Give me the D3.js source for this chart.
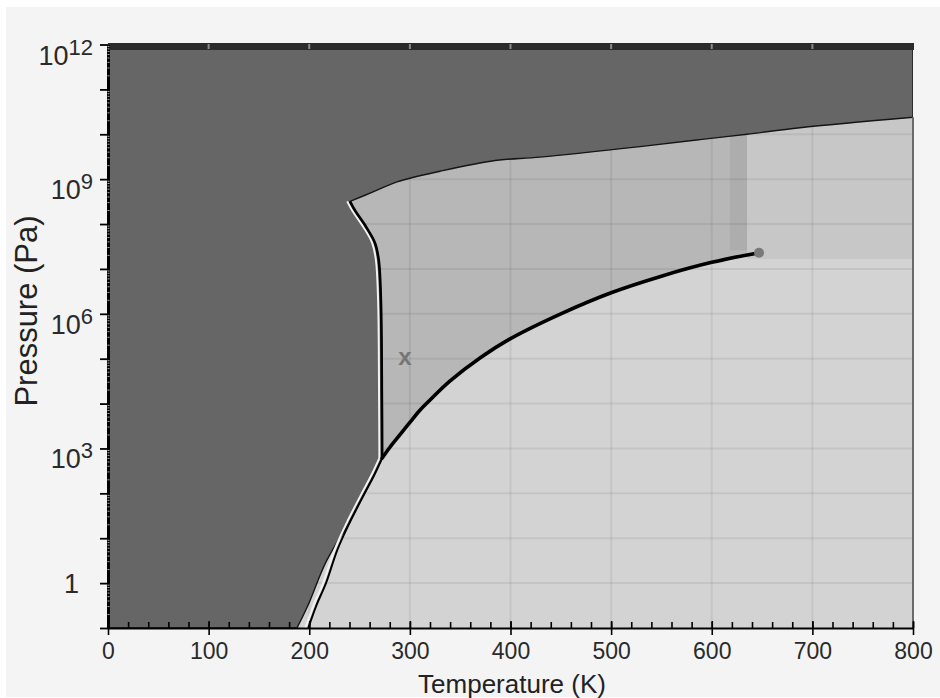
<!DOCTYPE html>
<html>
<head>
<meta charset="utf-8">
<script src="https://cdn.jsdelivr.net/npm/d3@7"></script>
<style>
  body { margin: 0; background: #fff; }
  svg text { font-family: "Liberation Sans", Arial, sans-serif; fill: #222; }
</style>
</head>
<body>
<div id="chart"></div>
<script>
// Temperatures in K, pressures in Pa
const xTicks = [0, 100, 200, 300, 400, 500, 600, 700, 800];
const yLabelExponents = [0, 3, 6, 9, 12];

// upper edge of the dark (solid) region, left tip to right edge
const solidTop = [
  [240.5, 3.2e8], [263.4, 5.2e8], [287.2, 8.7e8], [330, 1.5e9], [384.6, 2.6e9],
  [429.3, 3.1e9], [528.7, 5.3e9], [588.3, 7.6e9], [635, 1.0e10], [687.7, 1.4e10], [800, 2.4e10],
];
// melting line, triple point up to the tip
const meltingCurve = [
  [272.5, 611], [272.2, 1.2e4], [271.2, 2.0e6], [269, 1.6e7],
  [265.3, 3.8e7], [256.4, 8.7e7], [245.5, 2.0e8], [240.5, 3.2e8],
];
// sublimation line, bottom edge up to the triple point
const sublimationCurve = [
  [199, 0.1], [207, 0.316], [216.6, 1], [228, 5.6], [240, 22], [255, 100], [264, 240], [272.5, 611],
];
// lower edge of the dark region, left of the sublimation line
const solidEdgeLow = [[187.8, 0.1], [198.2, 0.3], [217.4, 3.2], [240, 22]];
// boiling line, triple point to critical point
const vaporCurve = [
  [272.5, 611], [280, 1050], [290, 2000], [300, 3800], [310, 7100], [320, 1.2e4],
  [340, 3.2e4], [370, 1.05e5], [400, 2.8e5], [450, 1.0e6], [500, 2.95e6],
  [550, 6.9e6], [600, 1.4e7], [647, 2.3e7],
];
const criticalPoint = [647, 2.3e7];
const roomPoint = [295, 101325];
// shaded patches in the fluid part
const bandTemps = [618, 635];
const bandFloor = 2.6e7;
const superTemps = [635, 800];
const superFloor = 1.66e7;
const liquidCorner = [635, 2.05e7];

const width = 940;
const height = 698;

const xScale = d3.scaleLinear().domain([0, 800]).range([108, 913]);
const yScale = d3.scaleLog().domain([0.1, 1e12]).range([628, 44.5]);

const toPx = (pts) => pts.map(([t, p]) => [xScale(t), yScale(p)]);
const smooth = d3.line().curve(d3.curveCatmullRom.alpha(0.5));
const straight = d3.line();

// join pieces into one closed path: each piece is {pts, curved}
function outline(pieces) {
  let d = '';
  pieces.forEach((piece, i) => {
    const seg = (piece.curved ? smooth : straight)(toPx(piece.pts));
    d += i === 0 ? seg : seg.replace(/^M/, 'L');
  });
  return `${d}Z`;
}

const svg = d3.select('#chart')
  .append('svg')
  .attr('width', width)
  .attr('height', height);

svg.append('rect')
  .attr('x', 6).attr('y', 7)
  .attr('width', 934).attr('height', 690)
  .attr('fill', '#f4f4f4');

svg.append('clipPath')
  .attr('id', 'plot-clip')
  .append('rect')
  .attr('x', xScale(0)).attr('y', yScale(1e12))
  .attr('width', xScale(800) - xScale(0))
  .attr('height', yScale(0.1) - yScale(1e12));

const plot = svg.append('g').attr('clip-path', 'url(#plot-clip)');

// gas background
plot.append('rect')
  .attr('x', xScale(0)).attr('y', yScale(1e12))
  .attr('width', xScale(800) - xScale(0))
  .attr('height', yScale(0.1) - yScale(1e12))
  .attr('fill', '#d3d3d3');

// fluid patches (the solid drawn later covers their upper parts)
plot.append('path')
  .attr('d', outline([
    { pts: meltingCurve, curved: true },
    { pts: [[240.5, 1e12], [liquidCorner[0], 1e12], liquidCorner], curved: false },
    { pts: vaporCurve.filter((d) => d[0] <= 600).reverse(), curved: true },
  ]))
  .attr('fill', '#b7b7b7');

plot.append('path')
  .attr('d', outline([{
    pts: [[bandTemps[0], bandFloor], [bandTemps[0], 1e12], [bandTemps[1], 1e12], [bandTemps[1], bandFloor]],
    curved: false,
  }]))
  .attr('fill', '#adadad');

plot.append('path')
  .attr('d', outline([{
    pts: [[superTemps[0], superFloor], [superTemps[0], 1e12], [superTemps[1], 1e12], [superTemps[1], superFloor]],
    curved: false,
  }]))
  .attr('fill', '#c7c7c7');

// gridlines
plot.append('g')
  .selectAll('line')
  .data(xTicks.slice(1, -1))
  .join('line')
  .attr('x1', (d) => xScale(d)).attr('x2', (d) => xScale(d))
  .attr('y1', yScale(1e12)).attr('y2', yScale(0.1))
  .attr('stroke', 'rgba(0,0,0,0.065)')
  .attr('stroke-width', 2);

const decades = d3.range(0, 12).map((e) => 10 ** e);
plot.append('g')
  .selectAll('line')
  .data(decades)
  .join('line')
  .attr('x1', xScale(0)).attr('x2', xScale(800))
  .attr('y1', (d) => yScale(d)).attr('y2', (d) => yScale(d))
  .attr('stroke', 'rgba(0,0,0,0.065)')
  .attr('stroke-width', 2);

// solid
plot.append('path')
  .attr('d', outline([
    { pts: [[0, 0.1], [0, 1e12], [800, 1e12]], curved: false },
    { pts: solidTop.slice().reverse(), curved: true },
    { pts: meltingCurve.slice().reverse(), curved: true },
    { pts: sublimationCurve.filter((d) => d[0] >= 240 && d[0] < 272.5).reverse(), curved: true },
    { pts: solidEdgeLow.slice().reverse(), curved: true },
  ]))
  .attr('fill', '#666666')
  .attr('stroke', '#151515')
  .attr('stroke-width', 1.4)
  .attr('stroke-linejoin', 'round');

// white highlight next to melting and sublimation lines
[meltingCurve, sublimationCurve].forEach((curve) => {
  plot.append('path')
    .attr('d', smooth(toPx(curve)))
    .attr('transform', 'translate(-2.8,0)')
    .attr('fill', 'none')
    .attr('stroke', '#f2f2f2')
    .attr('stroke-width', 2);
});

plot.append('path')
  .attr('d', smooth(toPx(meltingCurve)))
  .attr('fill', 'none')
  .attr('stroke', '#000')
  .attr('stroke-width', 2.6);

plot.append('path')
  .attr('d', smooth(toPx(sublimationCurve)))
  .attr('fill', 'none')
  .attr('stroke', '#000')
  .attr('stroke-width', 2);

plot.append('path')
  .attr('d', smooth(toPx(vaporCurve)))
  .attr('fill', 'none')
  .attr('stroke', '#000')
  .attr('stroke-width', 3.6)
  .attr('stroke-linecap', 'round');

plot.append('circle')
  .attr('cx', xScale(criticalPoint[0]))
  .attr('cy', yScale(criticalPoint[1]))
  .attr('r', 5)
  .attr('fill', '#7a7a7a');

plot.append('text')
  .attr('x', xScale(roomPoint[0]))
  .attr('y', yScale(roomPoint[1]) + 7)
  .attr('text-anchor', 'middle')
  .style('font-size', '24px')
  .style('font-weight', 'bold')
  .style('fill', '#767676')
  .text('x');

// top border band with light ticks
svg.append('rect')
  .attr('x', xScale(0)).attr('y', 43)
  .attr('width', xScale(800) - xScale(0) + 1).attr('height', 7)
  .attr('fill', '#2b2b2b');

svg.append('g')
  .selectAll('line')
  .data(xTicks.slice(1, -1))
  .join('line')
  .attr('x1', (d) => xScale(d)).attr('x2', (d) => xScale(d))
  .attr('y1', 44).attr('y2', 49)
  .attr('stroke', '#8a8a8a')
  .attr('stroke-width', 2);

// right border
svg.append('line')
  .attr('x1', xScale(800)).attr('x2', xScale(800))
  .attr('y1', yScale(2.4e10)).attr('y2', yScale(0.1))
  .attr('stroke', '#6a6a6a')
  .attr('stroke-width', 2);

// X axis
const xAxis = svg.append('g')
  .attr('transform', `translate(0,${yScale(0.1)})`)
  .call(d3.axisBottom(xScale).tickValues(xTicks).tickSize(7).tickSizeOuter(0).tickPadding(8));
xAxis.select('.domain').attr('stroke-width', 2);
xAxis.selectAll('.tick line').attr('stroke-width', 1.6);
xAxis.selectAll('text').style('font-size', '23px').style('fill', '#2a2a2a');

svg.append('g')
  .attr('transform', `translate(0,${yScale(0.1)})`)
  .call(d3.axisBottom(xScale).tickValues(d3.range(0, 801, 20)).tickSize(-6).tickSizeOuter(0).tickFormat(''))
  .call((g) => g.select('.domain').remove())
  .selectAll('.tick line')
  .attr('stroke-width', 1.6);

svg.append('g')
  .attr('transform', `translate(0,${yScale(0.1)})`)
  .call(d3.axisBottom(xScale).tickValues(xTicks).tickSize(-7).tickSizeOuter(0).tickFormat(''))
  .call((g) => g.select('.domain').remove())
  .selectAll('.tick line')
  .attr('stroke-width', 1.6);

// Y axis
const yAxis = svg.append('g')
  .attr('transform', `translate(${xScale(0)},0)`)
  .call(d3.axisLeft(yScale).tickValues(d3.range(-1, 13).map((e) => 10 ** e)).tickSize(8).tickSizeOuter(0).tickFormat(''));
yAxis.select('.domain').attr('stroke-width', 3);
yAxis.selectAll('.tick line').attr('stroke-width', 1.8);

const minorY = [];
d3.range(-1, 12).forEach((e) => {
  [2, 3, 4, 5, 6, 7, 8, 9].forEach((k) => minorY.push(k * 10 ** e));
});
svg.append('g')
  .selectAll('line')
  .data(minorY)
  .join('line')
  .attr('x1', xScale(0) - 0.5).attr('x2', xScale(0) + 1.5)
  .attr('y1', (d) => yScale(d)).attr('y2', (d) => yScale(d))
  .attr('stroke', '#d8d8d8')
  .attr('stroke-width', 0.8);

yLabelExponents.forEach((e) => {
  const ty = yScale(10 ** e);
  if (e === 0) {
    svg.append('text')
      .attr('x', 79).attr('y', ty + 10)
      .attr('text-anchor', 'end')
      .style('font-size', '27px')
      .style('fill', '#2a2a2a')
      .text('1');
    return;
  }
  const label = svg.append('text')
    .attr('x', 93).attr('y', ty + 20)
    .attr('text-anchor', 'end')
    .style('fill', '#2a2a2a');
  label.append('tspan').style('font-size', '27px').text('10');
  label.append('tspan').attr('dy', -10).style('font-size', '22px').text(e);
});

// axis titles
svg.append('text')
  .attr('x', 512)
  .attr('y', 693)
  .attr('text-anchor', 'middle')
  .style('font-size', '26px')
  .text('Temperature (K)');

svg.append('text')
  .attr('transform', 'translate(37,311) rotate(-90)')
  .attr('text-anchor', 'middle')
  .style('font-size', '31px')
  .text('Pressure (Pa)');
</script>
</body>
</html>
